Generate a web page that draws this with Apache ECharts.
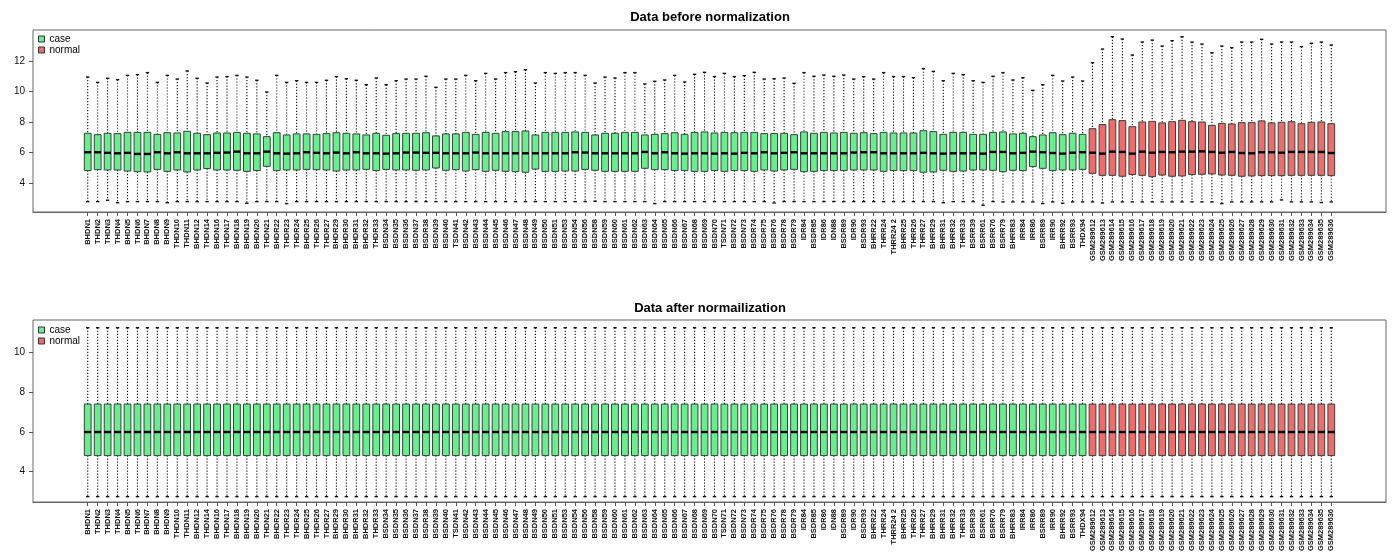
<!DOCTYPE html>
<html>
<head>
<meta charset="utf-8">
<script src="https://cdn.jsdelivr.net/npm/echarts@6.0.0/dist/echarts.min.js"></script>
<style>
  html, body { margin: 0; padding: 0; background: #fff; }
  #main { width: 1393px; height: 555px; }
</style>
</head>
<body>
<div id="main"></div>
<script>
// sample names, 101 case samples followed by 25 normal samples
var sampleNames = [
  'BHDN1','THDN2','THDN3','THDN4','BHDN5','THDN6','BHDN7','BHDN8','BHDN9','THDN10',
  'THDN11','BHDN12','THDN14','BHDN16','THDN17','BHDN18','BHDN19','BHDN20','THDN21','BHDR22',
  'THDR23','THDR24','BHDR25','THDR26','THDR27','BHDR29','BHDR30','BHDR31','BHDR32','THDR33',
  'BSDN34','BSDN35','BSDN36','BSDN37','BSDR38','BSDN39','BSDN40','TSDN41','BSDN42','BSDN43',
  'BSDN44','BSDN45','BSDN46','BSDN47','BSDN48','BSDN49','BSDN50','BSDN51','BSDN53','BSDN54',
  'BSDN56','BSDN58','BSDN59','BSDN60','BSDN61','BSDN62','BSDN63','BSDN64','BSDN65','BSDN66',
  'BSDN67','BSDN68','BSDN69','BSDN70','TSDN71','BSDN72','BSDN73','BSDR74','BSDR75','BSDR76',
  'BSDR78','BSDR79','IDR84','BSDR85','IDR86','IDN88','BSDR89','IDR90','BSDR93','BHRR22',
  'THRR24','THRR24 2','BHRR25','THRR26','THRR27','BHRR29','BHRR31','BHRR32','THRR33','BSRR39',
  'BSRR61','BSRR76','BSRR79','BHRR83','IRR84','IRR86','BSRR89','IRR90','BHRR92','BSRR93',
  'THDX94',
  'GSM289612','GSM289613','GSM289614','GSM289615','GSM289616','GSM289617','GSM289618','GSM289619','GSM289620',
  'GSM289621','GSM289622','GSM289623','GSM289624','GSM289625','GSM289626','GSM289627','GSM289628','GSM289629',
  'GSM289630','GSM289631','GSM289632','GSM289633','GSM289634','GSM289635','GSM289636'
];
var caseCount = 101;

// before normalization: whisker low, Q1, median, Q3, whisker high
var beforeMin = [
  2.80,2.80,2.89,2.73,2.80,2.80,2.80,2.80,2.73,2.80,
  2.80,2.80,2.80,2.80,2.80,2.80,2.69,2.80,2.80,2.80,
  2.67,2.80,2.80,2.80,2.80,2.80,2.80,2.80,2.80,2.80,
  2.80,2.80,2.80,2.80,2.80,2.80,2.80,2.80,2.80,2.80,
  2.80,2.80,2.80,2.80,2.80,2.80,2.80,2.80,2.80,2.80,
  2.80,2.82,2.80,2.80,2.80,2.80,2.80,2.67,2.80,2.80,
  2.80,2.80,2.80,2.80,2.80,2.80,2.80,2.80,2.80,2.71,
  2.80,2.80,2.80,2.80,2.80,2.80,2.80,2.80,2.80,2.80,
  2.80,2.80,2.80,2.80,2.80,2.80,2.73,2.80,2.80,2.80,
  2.56,2.80,2.78,2.78,2.78,2.78,2.67,2.78,2.69,2.78,
  2.78,2.78,2.71,2.78,2.78,2.78,2.78,2.78,2.78,2.78,
  2.78,2.78,2.78,2.78,2.67,2.78,2.78,2.78,2.78,2.78,
  2.91,2.78,2.78,2.78,2.74,2.78
];
var beforeQ1 = [
  4.83,4.89,4.87,4.87,4.80,4.76,4.74,4.91,4.78,4.87,
  4.74,4.87,4.96,4.87,4.87,4.85,4.78,4.83,5.11,4.83,
  4.87,4.87,4.91,4.89,4.87,4.80,4.87,4.87,4.91,4.83,
  4.91,4.87,4.87,4.85,4.87,5.00,4.85,4.89,4.80,4.89,
  4.78,4.85,4.78,4.76,4.72,4.93,4.78,4.78,4.80,4.80,
  4.91,4.85,4.78,4.78,4.78,4.78,4.98,4.89,4.89,4.83,
  4.83,4.78,4.78,4.83,4.78,4.83,4.83,4.78,4.87,4.80,
  4.87,4.91,4.76,4.78,4.83,4.83,4.83,4.87,4.87,4.87,
  4.78,4.83,4.83,4.83,4.72,4.74,4.85,4.78,4.80,4.87,
  4.87,4.85,4.76,4.85,4.83,5.09,4.98,4.83,4.87,4.87,
  4.91,4.65,4.52,4.52,4.46,4.57,4.52,4.43,4.54,4.46,
  4.48,4.57,4.59,4.61,4.54,4.52,4.46,4.48,4.50,4.50,
  4.50,4.52,4.52,4.52,4.52,4.50
];
var beforeMedian = [
  6.03,6.03,5.99,5.96,5.99,5.92,5.92,6.03,5.96,6.03,
  5.96,5.96,5.96,5.99,6.01,6.07,5.96,5.96,6.07,5.96,
  5.94,5.96,6.03,5.99,5.96,6.01,5.96,6.03,5.96,5.96,
  5.94,5.96,6.01,6.01,5.99,5.99,5.96,5.96,5.96,6.01,
  5.96,5.96,5.96,5.96,5.96,5.96,5.96,5.96,5.96,6.03,
  6.01,5.96,5.96,5.96,5.96,5.96,6.05,5.96,6.03,5.96,
  5.94,5.96,5.96,5.94,5.96,5.94,5.99,5.96,6.03,5.96,
  5.99,6.03,5.96,5.96,5.96,5.96,5.96,6.01,6.03,6.03,
  5.96,5.96,5.96,5.96,5.99,5.96,5.94,5.96,5.96,5.96,
  5.94,6.05,6.05,5.96,5.99,6.07,6.03,5.98,5.94,6.00,
  6.03,6.00,5.94,6.07,6.05,5.94,6.07,6.00,6.05,6.03,
  6.07,6.07,6.09,6.05,6.00,6.05,5.98,5.96,6.03,6.03,
  6.00,6.05,6.05,6.05,6.05,5.98
];
var beforeQ3 = [
  7.27,7.18,7.27,7.25,7.33,7.33,7.33,7.20,7.31,7.29,
  7.40,7.27,7.18,7.29,7.29,7.33,7.27,7.23,7.05,7.31,
  7.16,7.23,7.23,7.20,7.25,7.31,7.27,7.23,7.16,7.27,
  7.14,7.25,7.27,7.27,7.31,7.10,7.23,7.23,7.33,7.20,
  7.33,7.27,7.38,7.38,7.42,7.16,7.33,7.33,7.33,7.36,
  7.33,7.16,7.27,7.27,7.33,7.33,7.16,7.20,7.25,7.31,
  7.20,7.33,7.36,7.29,7.33,7.31,7.33,7.33,7.25,7.25,
  7.27,7.18,7.36,7.27,7.33,7.29,7.33,7.27,7.31,7.25,
  7.33,7.29,7.29,7.29,7.44,7.38,7.20,7.33,7.33,7.20,
  7.20,7.33,7.36,7.23,7.27,7.05,7.16,7.31,7.18,7.27,
  7.20,7.57,7.84,8.16,8.10,7.70,8.01,8.05,7.95,8.03,
  8.12,8.03,8.01,7.79,7.92,7.88,7.97,7.97,8.08,7.95,
  7.99,8.03,7.90,7.99,8.01,7.90
];
var beforeMax = [
  10.95,10.60,10.87,10.78,11.06,11.11,11.24,10.60,11.06,10.82,
  11.35,10.87,10.56,10.95,10.98,11.06,10.95,10.74,9.97,11.06,
  10.60,10.71,10.60,10.60,10.74,10.98,10.84,10.74,10.45,10.89,
  10.45,10.71,10.82,10.82,11.00,10.28,10.82,10.82,11.06,10.71,
  11.19,10.82,11.24,11.30,11.43,10.56,11.24,11.19,11.24,11.24,
  11.06,10.56,10.95,10.89,11.24,11.24,10.50,10.67,10.76,11.06,
  10.63,11.13,11.26,10.98,11.19,10.98,11.04,11.26,10.82,10.84,
  10.89,10.54,11.24,11.00,11.08,11.00,11.08,10.82,10.98,10.82,
  11.24,10.98,10.98,10.91,11.50,11.32,10.71,11.19,11.11,10.71,
  10.60,11.00,11.24,10.76,10.91,10.08,10.45,11.06,10.69,10.95,
  10.69,11.89,12.78,13.59,13.44,12.39,13.24,13.37,12.98,13.33,
  13.59,13.24,13.11,12.54,12.98,12.87,13.24,13.24,13.42,13.11,
  13.24,13.24,12.94,13.16,13.24,13.05
];

// after normalization: every sample has the same distribution
var afterMin = [
  2.74,2.74,2.74,2.74,2.74,2.74,2.74,2.74,2.74,2.74,2.74,2.74,2.74,2.74,2.74,2.74,2.74,2.74,2.74,2.74,2.74,
  2.74,2.74,2.74,2.74,2.74,2.74,2.74,2.74,2.74,2.74,2.74,2.74,2.74,2.74,2.74,2.74,2.74,2.74,2.74,2.74,2.74,
  2.74,2.74,2.74,2.74,2.74,2.74,2.74,2.74,2.74,2.74,2.74,2.74,2.74,2.74,2.74,2.74,2.74,2.74,2.74,2.74,2.74,
  2.74,2.74,2.74,2.74,2.74,2.74,2.74,2.74,2.74,2.74,2.74,2.74,2.74,2.74,2.74,2.74,2.74,2.74,2.74,2.74,2.74,
  2.74,2.74,2.74,2.74,2.74,2.74,2.74,2.74,2.74,2.74,2.74,2.74,2.74,2.74,2.74,2.74,2.74,2.74,2.74,2.74,2.74,
  2.74,2.74,2.74,2.74,2.74,2.74,2.74,2.74,2.74,2.74,2.74,2.74,2.74,2.74,2.74,2.74,2.74,2.74,2.74,2.74,2.74
];
var afterQ1 = [
  4.81,4.81,4.81,4.81,4.81,4.81,4.81,4.81,4.81,4.81,4.81,4.81,4.81,4.81,4.81,4.81,4.81,4.81,4.81,4.81,4.81,
  4.81,4.81,4.81,4.81,4.81,4.81,4.81,4.81,4.81,4.81,4.81,4.81,4.81,4.81,4.81,4.81,4.81,4.81,4.81,4.81,4.81,
  4.81,4.81,4.81,4.81,4.81,4.81,4.81,4.81,4.81,4.81,4.81,4.81,4.81,4.81,4.81,4.81,4.81,4.81,4.81,4.81,4.81,
  4.81,4.81,4.81,4.81,4.81,4.81,4.81,4.81,4.81,4.81,4.81,4.81,4.81,4.81,4.81,4.81,4.81,4.81,4.81,4.81,4.81,
  4.81,4.81,4.81,4.81,4.81,4.81,4.81,4.81,4.81,4.81,4.81,4.81,4.81,4.81,4.81,4.81,4.81,4.81,4.81,4.81,4.81,
  4.81,4.81,4.81,4.81,4.81,4.81,4.81,4.81,4.81,4.81,4.81,4.81,4.81,4.81,4.81,4.81,4.81,4.81,4.81,4.81,4.81
];
var afterMedian = [
  6.00,6.00,6.00,6.00,6.00,6.00,6.00,6.00,6.00,6.00,6.00,6.00,6.00,6.00,6.00,6.00,6.00,6.00,6.00,6.00,6.00,
  6.00,6.00,6.00,6.00,6.00,6.00,6.00,6.00,6.00,6.00,6.00,6.00,6.00,6.00,6.00,6.00,6.00,6.00,6.00,6.00,6.00,
  6.00,6.00,6.00,6.00,6.00,6.00,6.00,6.00,6.00,6.00,6.00,6.00,6.00,6.00,6.00,6.00,6.00,6.00,6.00,6.00,6.00,
  6.00,6.00,6.00,6.00,6.00,6.00,6.00,6.00,6.00,6.00,6.00,6.00,6.00,6.00,6.00,6.00,6.00,6.00,6.00,6.00,6.00,
  6.00,6.00,6.00,6.00,6.00,6.00,6.00,6.00,6.00,6.00,6.00,6.00,6.00,6.00,6.00,6.00,6.00,6.00,6.00,6.00,6.00,
  6.00,6.00,6.00,6.00,6.00,6.00,6.00,6.00,6.00,6.00,6.00,6.00,6.00,6.00,6.00,6.00,6.00,6.00,6.00,6.00,6.00
];
var afterQ3 = [
  7.41,7.41,7.41,7.41,7.41,7.41,7.41,7.41,7.41,7.41,7.41,7.41,7.41,7.41,7.41,7.41,7.41,7.41,7.41,7.41,7.41,
  7.41,7.41,7.41,7.41,7.41,7.41,7.41,7.41,7.41,7.41,7.41,7.41,7.41,7.41,7.41,7.41,7.41,7.41,7.41,7.41,7.41,
  7.41,7.41,7.41,7.41,7.41,7.41,7.41,7.41,7.41,7.41,7.41,7.41,7.41,7.41,7.41,7.41,7.41,7.41,7.41,7.41,7.41,
  7.41,7.41,7.41,7.41,7.41,7.41,7.41,7.41,7.41,7.41,7.41,7.41,7.41,7.41,7.41,7.41,7.41,7.41,7.41,7.41,7.41,
  7.41,7.41,7.41,7.41,7.41,7.41,7.41,7.41,7.41,7.41,7.41,7.41,7.41,7.41,7.41,7.41,7.41,7.41,7.41,7.41,7.41,
  7.41,7.41,7.41,7.41,7.41,7.41,7.41,7.41,7.41,7.41,7.41,7.41,7.41,7.41,7.41,7.41,7.41,7.41,7.41,7.41,7.41
];
var afterMax = [
  11.26,11.26,11.26,11.26,11.26,11.26,11.26,11.26,11.26,11.26,11.26,11.26,11.26,11.26,11.26,11.26,11.26,11.26,11.26,11.26,11.26,
  11.26,11.26,11.26,11.26,11.26,11.26,11.26,11.26,11.26,11.26,11.26,11.26,11.26,11.26,11.26,11.26,11.26,11.26,11.26,11.26,11.26,
  11.26,11.26,11.26,11.26,11.26,11.26,11.26,11.26,11.26,11.26,11.26,11.26,11.26,11.26,11.26,11.26,11.26,11.26,11.26,11.26,11.26,
  11.26,11.26,11.26,11.26,11.26,11.26,11.26,11.26,11.26,11.26,11.26,11.26,11.26,11.26,11.26,11.26,11.26,11.26,11.26,11.26,11.26,
  11.26,11.26,11.26,11.26,11.26,11.26,11.26,11.26,11.26,11.26,11.26,11.26,11.26,11.26,11.26,11.26,11.26,11.26,11.26,11.26,11.26,
  11.26,11.26,11.26,11.26,11.26,11.26,11.26,11.26,11.26,11.26,11.26,11.26,11.26,11.26,11.26,11.26,11.26,11.26,11.26,11.26,11.26
];

var yTicksBefore = [4, 6, 8, 10, 12];
var yTicksAfter = [4, 6, 8, 10];

// empty slots either side, like R's boxplot leaving room for the legend
var PAD = 5;
var categories = [];
for (var p = 0; p < PAD; p++) categories.push('');
categories = categories.concat(sampleNames);
for (var p = 0; p < PAD; p++) categories.push('');

function buildRows(lo, q1, med, q3, hi, from, to) {
  var rows = [];
  for (var i = from; i < to; i++) {
    rows.push([PAD + i, lo[i], q1[i], med[i], q3[i], hi[i]]);
  }
  return rows;
}

// R-style box: dotted whiskers, small staples, thick median
function renderBox(params, api) {
  var idx = api.value(0);
  var x = api.coord([idx, api.value(3)])[0];
  var half = api.size([1, 0])[0] * 0.34;
  var yLo = api.coord([idx, api.value(1)])[1];
  var yQ1 = api.coord([idx, api.value(2)])[1];
  var yMed = api.coord([idx, api.value(3)])[1];
  var yQ3 = api.coord([idx, api.value(4)])[1];
  var yHi = api.coord([idx, api.value(5)])[1];
  var cap = half * 0.5;
  var dotted = { stroke: '#111', lineWidth: 1.1, lineDash: [1.2, 1.8] };
  var solid = { stroke: '#111', lineWidth: 1.4 };
  return {
    type: 'group',
    children: [
      { type: 'line', shape: { x1: x, y1: yHi, x2: x, y2: yQ3 }, style: dotted },
      { type: 'line', shape: { x1: x, y1: yQ1, x2: x, y2: yLo }, style: dotted },
      { type: 'line', shape: { x1: x - cap, y1: yHi, x2: x + cap, y2: yHi }, style: solid },
      { type: 'line', shape: { x1: x - cap, y1: yLo, x2: x + cap, y2: yLo }, style: solid },
      { type: 'rect', shape: { x: x - half, y: yQ3, width: half * 2, height: yQ1 - yQ3 },
        style: { fill: api.visual('color'), stroke: '#34403a', lineWidth: 1 } },
      { type: 'line', shape: { x1: x - half, y1: yMed, x2: x + half, y2: yMed },
        style: { stroke: '#000', lineWidth: 2.4 } }
    ]
  };
}

var caseColor = '#66f08c';
var normalColor = '#f26b6b';
var font = 'Liberation Sans, Arial, sans-serif';

function xAxisFor(gi) {
  return {
    type: 'category', gridIndex: gi, data: categories, boundaryGap: true,
    axisLine: { show: true, lineStyle: { color: '#666', width: 1 } },
    axisTick: {
      show: true, alignWithLabel: true, length: 4,
      interval: function (i) { return i >= PAD && i < PAD + sampleNames.length; },
      lineStyle: { color: '#555' }
    },
    axisLabel: {
      interval: 0, rotate: 90, fontSize: 7.5, fontWeight: 'bold',
      fontFamily: font, color: '#111', margin: 7
    },
    splitLine: { show: false }
  };
}

function yAxisFor(gi, lo, hi, ticks) {
  return {
    type: 'value', gridIndex: gi, min: lo, max: hi,
    axisLine: { show: false },
    axisTick: { show: true, length: 4, customValues: ticks, lineStyle: { color: '#555' } },
    axisLabel: { customValues: ticks, fontSize: 10, fontFamily: font, color: '#111', margin: 8 },
    splitLine: { show: false }
  };
}

function legendFor(top) {
  return {
    data: ['case', 'normal'], orient: 'vertical', left: 38, top: top,
    icon: 'rect', itemWidth: 6, itemHeight: 6, itemGap: 1, padding: 0,
    itemStyle: { borderColor: '#333', borderWidth: 1 },
    textStyle: { fontSize: 10, lineHeight: 10, fontFamily: font, color: '#000' }
  };
}

var myChart = echarts.init(document.getElementById('main'));
myChart.setOption({
  animation: false,
  backgroundColor: '#fff',
  title: [
    { text: 'Data before normalization', left: 710, top: 11, textAlign: 'center', padding: 0,
      textStyle: { fontSize: 13, fontWeight: 'bold', fontFamily: font, color: '#000' } },
    { text: 'Data after normailization', left: 710, top: 302, textAlign: 'center', padding: 0,
      textStyle: { fontSize: 13, fontWeight: 'bold', fontFamily: font, color: '#000' } }
  ],
  legend: [legendFor(34), legendFor(325)],
  grid: [
    { left: 33, right: 7, top: 30, height: 182, show: true, borderColor: '#666', borderWidth: 1,
      backgroundColor: 'transparent', outerBoundsMode: 'none' },
    { left: 33, right: 7, top: 320, height: 182, show: true, borderColor: '#666', borderWidth: 1,
      backgroundColor: 'transparent', outerBoundsMode: 'none' }
  ],
  xAxis: [xAxisFor(0), xAxisFor(1)],
  yAxis: [
    yAxisFor(0, 2.12, 14.03, yTicksBefore),
    yAxisFor(1, 2.47, 11.65, yTicksAfter)
  ],
  series: [
    { name: 'case', type: 'custom', xAxisIndex: 0, yAxisIndex: 0, renderItem: renderBox,
      itemStyle: { color: caseColor }, encode: { x: 0, y: [1, 2, 3, 4, 5] },
      data: buildRows(beforeMin, beforeQ1, beforeMedian, beforeQ3, beforeMax, 0, caseCount) },
    { name: 'normal', type: 'custom', xAxisIndex: 0, yAxisIndex: 0, renderItem: renderBox,
      itemStyle: { color: normalColor }, encode: { x: 0, y: [1, 2, 3, 4, 5] },
      data: buildRows(beforeMin, beforeQ1, beforeMedian, beforeQ3, beforeMax, caseCount, sampleNames.length) },
    { name: 'case', type: 'custom', xAxisIndex: 1, yAxisIndex: 1, renderItem: renderBox,
      itemStyle: { color: caseColor }, encode: { x: 0, y: [1, 2, 3, 4, 5] },
      data: buildRows(afterMin, afterQ1, afterMedian, afterQ3, afterMax, 0, caseCount) },
    { name: 'normal', type: 'custom', xAxisIndex: 1, yAxisIndex: 1, renderItem: renderBox,
      itemStyle: { color: normalColor }, encode: { x: 0, y: [1, 2, 3, 4, 5] },
      data: buildRows(afterMin, afterQ1, afterMedian, afterQ3, afterMax, caseCount, sampleNames.length) }
  ]
});
</script>
</body>
</html>
